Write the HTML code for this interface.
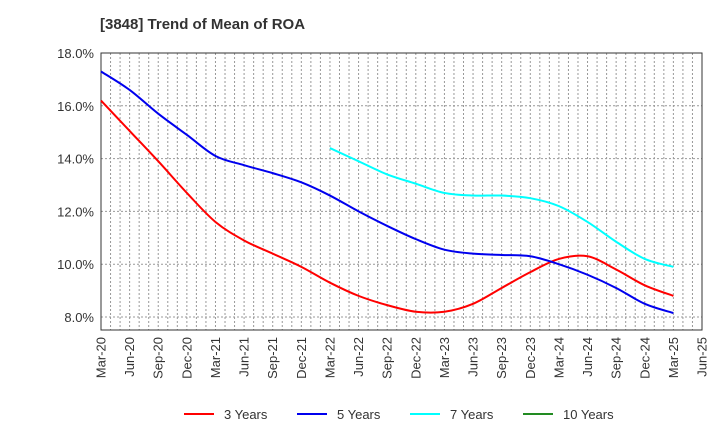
<!DOCTYPE html>
<html><head><meta charset="utf-8"><style>
body{margin:0;background:#fff;font-family:"Liberation Sans",sans-serif}
svg text{font-family:"Liberation Sans",sans-serif}
</style></head><body>
<svg id="c" width="720" height="440">
<text x="100" y="29" font-size="15" font-weight="bold" fill="#333">[3848]  Trend of Mean of ROA</text>
<g id="grid"></g><g id="axes"></g><g id="series"></g><g id="legend"></g>
</svg>
<script>
const xLabels=["Mar-20","Jun-20","Sep-20","Dec-20","Mar-21","Jun-21","Sep-21","Dec-21","Mar-22","Jun-22","Sep-22","Dec-22","Mar-23","Jun-23","Sep-23","Dec-23","Mar-24","Jun-24","Sep-24","Dec-24","Mar-25","Jun-25"];
const yTicks=[8,10,12,14,16,18];
const s3=[16.2,15.05,13.9,12.7,11.6,10.9,10.4,9.9,9.3,8.8,8.45,8.2,8.2,8.5,9.1,9.7,10.2,10.3,9.8,9.2,8.8];
const s5=[17.3,16.6,15.7,14.9,14.1,13.75,13.45,13.1,12.6,12.0,11.45,10.95,10.55,10.4,10.35,10.3,10.0,9.6,9.1,8.5,8.15];
const s7=[14.4,13.9,13.4,13.05,12.7,12.6,12.6,12.5,12.2,11.6,10.85,10.2,9.9];
const s7start=8;
const s10=[];
const NS="http://www.w3.org/2000/svg";
const L=101,R=702,T=53,B=330;
const xm=m=>L+(R-L)*m/63;
const xq=i=>xm(i*3);
const y=v=>317-(v-8)*26.4;
function mk(tag,attrs,parent){const e=document.createElementNS(NS,tag);for(const k in attrs)e.setAttribute(k,attrs[k]);parent.appendChild(e);return e;}
const grid=document.getElementById('grid'),axes=document.getElementById('axes'),ser=document.getElementById('series'),leg=document.getElementById('legend');
for(let m=1;m<63;m++){const l=mk('line',{x1:xm(m),x2:xm(m),y1:T,y2:B,stroke:'#999','stroke-width':1,'stroke-dasharray':'2,2'},grid);

}
yTicks.forEach(v=>{if(v<18){const l=mk('line',{x1:L,x2:R,y1:y(v),y2:y(v),stroke:'#999','stroke-width':1,'stroke-dasharray':'2,2'},grid);

}
const t=mk('text',{x:L-7,y:y(v)+5,'text-anchor':'end','font-size':13,fill:'#333'},axes);t.textContent=v.toFixed(1)+'%';

});
const fr=mk('rect',{x:L,y:T,width:R-L,height:B-T,fill:'none',stroke:'#333','stroke-width':1},axes);


xLabels.forEach((s,i)=>{const t=mk('text',{transform:`translate(${xq(i)+4.5},${B+7}) rotate(-90)`,'text-anchor':'end','font-size':13,fill:'#333'},axes);t.textContent=s;

});
function path(vals,start){const p=vals.map((v,i)=>[xq(i+start),y(v)]);let d=`M${p[0][0]},${p[0][1]}`;
for(let i=0;i<p.length-1;i++){const p0=p[i-1]||p[i],p1=p[i],p2=p[i+1],p3=p[i+2]||p2;
d+=` C${p1[0]+(p2[0]-p0[0])/6},${p1[1]+(p2[1]-p0[1])/6} ${p2[0]-(p3[0]-p1[0])/6},${p2[1]-(p3[1]-p1[1])/6} ${p2[0]},${p2[1]}`;}return d;}
[[s3,0,'#ff0000','series-3-years'],[s5,0,'#0000ee','series-5-years'],[s7,s7start,'#00ffff','series-7-years'],[s10,0,'#228b22','series-10-years']].forEach(([v,st,c,n])=>{if(!v.length)return;
const p=mk('path',{d:path(v,st),fill:'none',stroke:c,'stroke-width':2},ser);

});
[['3 Years','#ff0000',184],['5 Years','#0000ee',297],['7 Years','#00ffff',410],['10 Years','#228b22',523]].forEach(([s,c,x])=>{
const g=mk('g',{},leg);


mk('line',{x1:x,x2:x+30,y1:414,y2:414,stroke:c,'stroke-width':2},g);
const t=mk('text',{x:x+40,y:419,'font-size':13,fill:'#333'},g);t.textContent=s;});
</script>
</body></html>
